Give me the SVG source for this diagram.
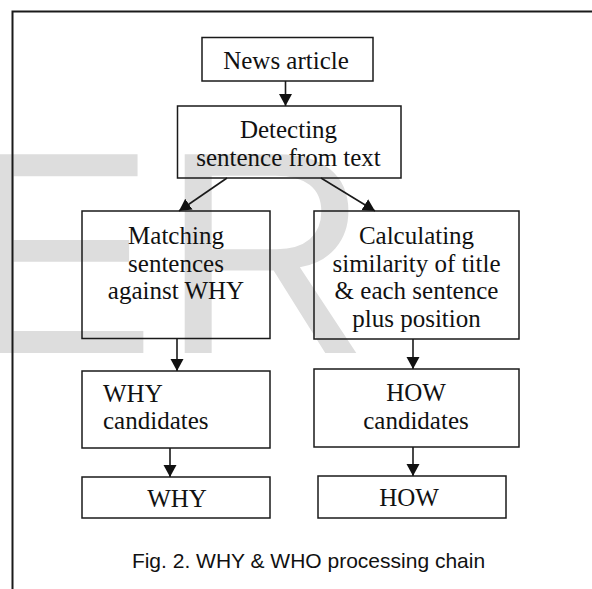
<svg xmlns="http://www.w3.org/2000/svg" width="592" height="589" viewBox="0 0 592 589">
  <style>
    .box { fill: none; stroke: #1a1a1a; stroke-width: 1.5; }
    .lbl { font-family: "Liberation Serif", "Times New Roman", serif; font-size: 25px; fill: #111; text-anchor: middle; }
    .lbl-l { font-family: "Liberation Serif", "Times New Roman", serif; font-size: 25px; fill: #111; text-anchor: start; }
    .conn { stroke: #1a1a1a; stroke-width: 1.6; fill: none; marker-end: url(#ah); }
    .cap { font-family: "Liberation Sans", Arial, sans-serif; font-size: 21px; fill: #111; text-anchor: middle; }
    .wm { font-family: "Liberation Sans", Arial, sans-serif; font-size: 289px; fill: #dddddd; }
  </style>
  <defs>
    <marker id="ah" markerUnits="userSpaceOnUse" markerWidth="13" markerHeight="14" refX="12" refY="6.5" orient="auto">
      <path d="M0,0 L12,6.5 L0,13 Z" fill="#111"/>
    </marker>
  </defs>
  <rect width="592" height="589" fill="#ffffff"/>
  <text class="wm" x="-37 161" y="353">ER</text>
  <path d="M12.5,589 V11.5 H592" fill="none" stroke="#1a1a1a" stroke-width="2"/>

  <g id="connectors">
    <line class="conn" x1="285.5" y1="81" x2="285.5" y2="106"/>
    <line class="conn" x1="227" y1="178" x2="179" y2="211"/>
    <line class="conn" x1="321" y1="178" x2="375" y2="211"/>
    <line class="conn" x1="177" y1="338.5" x2="177" y2="371"/>
    <line class="conn" x1="413" y1="339" x2="413" y2="369"/>
    <line class="conn" x1="170" y1="448" x2="170" y2="477"/>
    <line class="conn" x1="413" y1="447" x2="413" y2="476"/>
  </g>

  <g id="news">
    <rect class="box" x="202" y="37.5" width="171" height="43.5"/>
    <text class="lbl" x="286" y="69">News article</text>
  </g>
  <g id="detect">
    <rect class="box" x="177.5" y="106" width="223.5" height="72"/>
    <text class="lbl" x="288.5" y="138">Detecting</text>
    <text class="lbl" x="288.5" y="166">sentence from text</text>
  </g>
  <g id="matching">
    <rect class="box" x="82" y="211" width="188" height="127.5"/>
    <text class="lbl" x="176" y="244">Matching</text>
    <text class="lbl" x="176" y="271.5">sentences</text>
    <text class="lbl" x="176" y="299">against WHY</text>
  </g>
  <g id="calc">
    <rect class="box" x="314" y="211" width="205" height="128"/>
    <text class="lbl" x="416.5" y="244">Calculating</text>
    <text class="lbl" x="416.5" y="272">similarity of title</text>
    <text class="lbl" x="416.5" y="299">&amp; each sentence</text>
    <text class="lbl" x="416.5" y="327">plus position</text>
  </g>
  <g id="why-candidates">
    <rect class="box" x="82" y="371" width="188" height="77"/>
    <text class="lbl-l" x="103" y="402">WHY</text>
    <text class="lbl-l" x="103" y="429">candidates</text>
  </g>
  <g id="how-candidates">
    <rect class="box" x="314" y="369" width="205" height="78"/>
    <text class="lbl" x="416" y="401">HOW</text>
    <text class="lbl" x="416" y="429">candidates</text>
  </g>
  <g id="why">
    <rect class="box" x="82" y="477" width="188" height="41"/>
    <text class="lbl" x="177" y="507">WHY</text>
  </g>
  <g id="how">
    <rect class="box" x="318" y="476" width="188" height="42"/>
    <text class="lbl" x="409" y="506">HOW</text>
  </g>
  <text class="cap" x="308.5" y="568">Fig. 2. WHY &amp; WHO processing chain</text>
</svg>
